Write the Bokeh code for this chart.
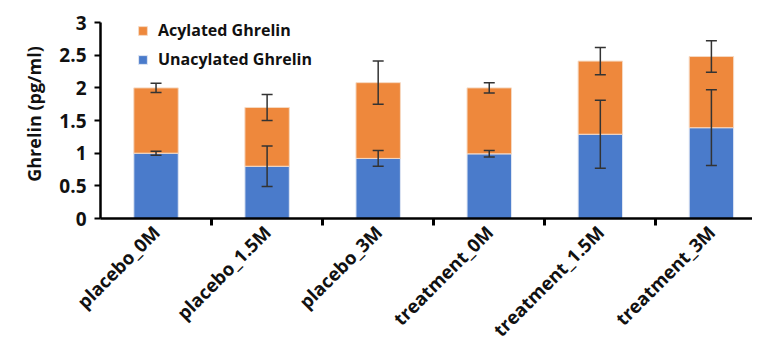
import math
from bokeh.plotting import figure
from bokeh.models import (ColumnDataSource, Range1d, FixedTicker, Whisker, TeeHead,
                          Legend, LegendItem)
from bokeh.embed import file_html
from bokeh.resources import INLINE

categories = ["placebo_0M", "placebo_1.5M", "placebo_3M",
              "treatment_0M", "treatment_1.5M", "treatment_3M"]
unacylated = [1.00, 0.80, 0.92, 0.99, 1.29, 1.39]
acylated = [1.00, 0.90, 1.16, 1.01, 1.12, 1.09]
unacylated_err = [0.03, 0.31, 0.12, 0.05, 0.52, 0.58]
total_err = [0.07, 0.20, 0.33, 0.08, 0.21, 0.24]
y_ticks = [0, 0.5, 1, 1.5, 2, 2.5, 3]

BLUE = "#4A7BCB"
ORANGE = "#EE883C"
FONT = "Open Sans"

xs = [i + 0.5 for i in range(len(categories))]
total = [u + a for u, a in zip(unacylated, acylated)]
src = ColumnDataSource(dict(
    x=xs, u=unacylated, t=total,
    u_lo=[u - e for u, e in zip(unacylated, unacylated_err)],
    u_hi=[u + e for u, e in zip(unacylated, unacylated_err)],
    t_lo=[t - e for t, e in zip(total, total_err)],
    t_hi=[t + e for t, e in zip(total, total_err)],
))

p = figure(width=752, height=354, output_backend="svg", toolbar_location=None,
           x_range=Range1d(0, 5.87), y_range=Range1d(0, 3.2),
           min_border_left=100, min_border_top=9, min_border_right=0,
           min_border_bottom=136)
p.outline_line_color = None
p.grid.visible = False

r_u = p.vbar(x="x", width=0.4, bottom=0, top="u", source=src,
             fill_color=BLUE, line_color="#dfe6f3", line_width=1)
r_a = p.vbar(x="x", width=0.4, bottom="u", top="t", source=src,
             fill_color=ORANGE, line_color="#f6d9c2", line_width=1)

for lo, hi in (("u_lo", "u_hi"), ("t_lo", "t_hi")):
    w = Whisker(base="x", lower=lo, upper=hi, source=src, level="overlay",
                line_color="#333333", line_width=1.5,
                upper_head=TeeHead(size=11, line_color="#333333", line_width=1.5),
                lower_head=TeeHead(size=11, line_color="#333333", line_width=1.5))
    p.add_layout(w)

# y axis
ya = p.yaxis[0]
ya.ticker = FixedTicker(ticks=y_ticks)
ya.bounds = (0, 3)
ya.axis_label = "Ghrelin (pg/ml)"
ya.axis_label_text_font = FONT
ya.axis_label_text_font_style = "bold"
ya.axis_label_text_font_size = "18px"
ya.axis_label_text_color = "#111111"
ya.axis_label_standoff = 10
ya.major_label_text_font = FONT
ya.major_label_text_font_style = "bold"
ya.major_label_text_font_size = "19px"
ya.major_label_text_color = "#111111"
ya.major_label_overrides = {0: "0", 0.5: "0.5", 1: "1", 1.5: "1.5", 2: "2", 2.5: "2.5", 3: "3"}
ya.axis_line_width = 2.5
ya.axis_line_color = "black"
ya.major_tick_line_width = 2
ya.major_tick_out = 6
ya.major_tick_in = 0
ya.minor_tick_line_color = None
ya.major_label_standoff = 8

# x axis
xa = p.xaxis[0]
xa.ticker = FixedTicker(ticks=xs, minor_ticks=[1, 2, 3, 4, 5])
xa.major_label_overrides = {x: c for x, c in zip(xs, categories)}
xa.major_label_orientation = math.pi / 4
xa.major_label_text_font = FONT
xa.major_label_text_font_style = "bold"
xa.major_label_text_font_size = "18.5px"
xa.major_label_text_color = "#111111"
xa.major_tick_line_color = None
xa.minor_tick_line_width = 3
xa.minor_tick_out = 7
xa.minor_tick_in = 0
xa.axis_line_width = 2.5
xa.axis_line_color = "black"
xa.major_label_standoff = 3

legend = Legend(items=[LegendItem(label="Acylated Ghrelin", renderers=[r_a]),
                       LegendItem(label="Unacylated Ghrelin", renderers=[r_u])],
                location=(37, 148), padding=0, margin=0, spacing=7,
                glyph_width=11, glyph_height=11, label_height=20,
                label_standoff=10, border_line_color=None,
                background_fill_alpha=0,
                label_text_font=FONT, label_text_font_style="bold",
                label_text_font_size="16px", label_text_color="#111111")
p.add_layout(legend, "center")

open("out.html", "w").write(file_html(p, INLINE))
